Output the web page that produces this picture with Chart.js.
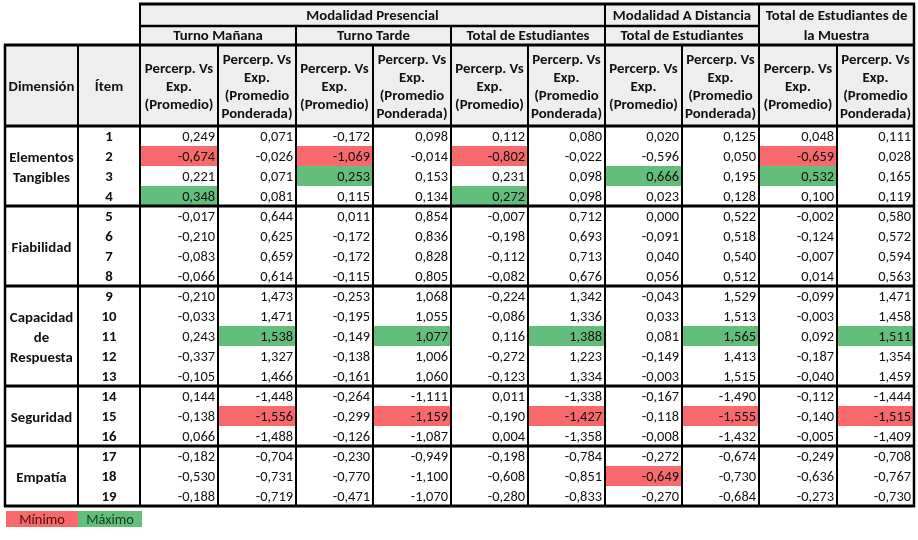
<!DOCTYPE html>
<html>
<head>
<meta charset="utf-8">
<script src="https://cdn.jsdelivr.net/npm/chart.js@4.4.0/dist/chart.umd.min.js"></script>
<style>
  html, body { margin: 0; padding: 0; background: #fff; }
</style>
</head>
<body>
<canvas id="tabla" width="918" height="540"></canvas>
<script>
// ---- data ----
const dimensiones = ['Elementos\nTangibles', 'Fiabilidad', 'Capacidad\nde\nRespuesta', 'Seguridad', 'Empatía'];
const itemsPorDimension = [4, 4, 5, 3, 3];
const items = [1, 2, 3, 4, 5, 6, 7, 8, 9, 10, 11, 12, 13, 14, 15, 16, 17, 18, 19];

const modalidades = ['Modalidad Presencial', 'Modalidad A Distancia', 'Total de Estudiantes de\nla Muestra'];
const grupos = ['Turno Mañana', 'Turno Tarde', 'Total de Estudiantes', 'Total de Estudiantes'];
const encabezados = ['Percerp. Vs\nExp.\n(Promedio)', 'Percerp. Vs\nExp.\n(Promedio\nPonderada)'];
const leyenda = ['Mínimo', 'Máximo'];

const mananaProm = [0.249, -0.674, 0.221, 0.348, -0.017, -0.210, -0.083, -0.066, -0.210, -0.033, 0.243, -0.337, -0.105, 0.144, -0.138, 0.066, -0.182, -0.530, -0.188];
const mananaPond = [0.071, -0.026, 0.071, 0.081, 0.644, 0.625, 0.659, 0.614, 1.473, 1.471, 1.538, 1.327, 1.466, -1.448, -1.556, -1.488, -0.704, -0.731, -0.719];
const tardeProm = [-0.172, -1.069, 0.253, 0.115, 0.011, -0.172, -0.172, -0.115, -0.253, -0.195, -0.149, -0.138, -0.161, -0.264, -0.299, -0.126, -0.230, -0.770, -0.471];
const tardePond = [0.098, -0.014, 0.153, 0.134, 0.854, 0.836, 0.828, 0.805, 1.068, 1.055, 1.077, 1.006, 1.060, -1.111, -1.159, -1.087, -0.949, -1.100, -1.070];
const presencialProm = [0.112, -0.802, 0.231, 0.272, -0.007, -0.198, -0.112, -0.082, -0.224, -0.086, 0.116, -0.272, -0.123, 0.011, -0.190, 0.004, -0.198, -0.608, -0.280];
const presencialPond = [0.080, -0.022, 0.098, 0.098, 0.712, 0.693, 0.713, 0.676, 1.342, 1.336, 1.388, 1.223, 1.334, -1.338, -1.427, -1.358, -0.784, -0.851, -0.833];
const distanciaProm = [0.020, -0.596, 0.666, 0.023, 0.000, -0.091, 0.040, 0.056, -0.043, 0.033, 0.081, -0.149, -0.003, -0.167, -0.118, -0.008, -0.272, -0.649, -0.270];
const distanciaPond = [0.125, 0.050, 0.195, 0.128, 0.522, 0.518, 0.540, 0.512, 1.529, 1.513, 1.565, 1.413, 1.515, -1.490, -1.555, -1.432, -0.674, -0.730, -0.684];
const muestraProm = [0.048, -0.659, 0.532, 0.100, -0.002, -0.124, -0.007, 0.014, -0.099, -0.003, 0.092, -0.187, -0.040, -0.112, -0.140, -0.005, -0.249, -0.636, -0.273];
const muestraPond = [0.111, 0.028, 0.165, 0.119, 0.580, 0.572, 0.594, 0.563, 1.471, 1.458, 1.511, 1.354, 1.459, -1.444, -1.515, -1.409, -0.708, -0.767, -0.730];

const columnas = [mananaProm, mananaPond, tardeProm, tardePond, presencialProm, presencialPond,
  distanciaProm, distanciaPond, muestraProm, muestraPond];

// ---- layout (scale units) ----
const colW = [73, 62, 78, 78, 77, 78, 77, 77, 77, 77, 78, 77];
const colEdge = [0];
colW.forEach(w => colEdge.push(colEdge[colEdge.length - 1] + w));
const headEdge = [0, 22, 41, 122];
const rowH = 20;
const dataTop = headEdge[3];
const dataBottom = dataTop + rowH * items.length;
const legendTop = dataBottom + 5, legendH = 16;

const ROJO = '#F8696B', VERDE = '#63BE7B', GRIS = '#EEEEEE';
const FONT = 'Carlito, Lato, "Liberation Sans", sans-serif';
const BOLD = 'bold 14.8px ' + FONT;
const NORMAL = '14.4px ' + FONT;

const fmt = v => v.toFixed(3).replace('.', ',');

const datasets = columnas.map((serie, c) => ({
  data: serie.map((v, r) => ({ x: (colEdge[c + 2] + colEdge[c + 3]) / 2, y: dataTop + rowH * (r + 0.5), v })),
  pointRadius: 0,
  pointHoverRadius: 0
}));

const tablaPlugin = {
  id: 'tabla',
  beforeDatasetsDraw(chart) {
    const { ctx, scales: { x, y } } = chart;
    const X = u => x.getPixelForValue(u), Y = u => y.getPixelForValue(u);
    ctx.save();
    // header fills
    ctx.fillStyle = GRIS;
    ctx.fillRect(X(colEdge[2]), Y(0), X(colEdge[12]) - X(colEdge[2]), Y(headEdge[2]) - Y(0));
    ctx.fillRect(X(0), Y(headEdge[2]), X(colEdge[12]) - X(0), Y(headEdge[3]) - Y(headEdge[2]));
    // min / max highlights per column
    columnas.forEach((serie, c) => {
      const mn = serie.indexOf(Math.min(...serie));
      const mx = serie.indexOf(Math.max(...serie));
      [[mn, ROJO], [mx, VERDE]].forEach(([r, col]) => {
        ctx.fillStyle = col;
        ctx.fillRect(X(colEdge[c + 2]), Y(dataTop + rowH * r), X(colEdge[c + 3]) - X(colEdge[c + 2]), Y(rowH) - Y(0));
      });
    });
    // legend
    leyenda.forEach((t, i) => {
      const x0 = X(colEdge[i] + (i === 0 ? 1 : 0)), x1 = X(colEdge[i + 1]) + (i === 1 ? 2 : 0);
      ctx.fillStyle = i === 0 ? ROJO : VERDE;
      ctx.fillRect(x0, Y(legendTop), x1 - x0, Y(legendTop + legendH) - Y(legendTop));
      ctx.fillStyle = i === 0 ? '#4a0c0c' : '#103d18';
      ctx.font = NORMAL;
      ctx.textAlign = 'center';
      ctx.textBaseline = 'middle';
      ctx.fillText(t, (x0 + x1) / 2, Y(legendTop + legendH / 2) + 1);
    });
    ctx.restore();
  },
  afterDatasetsDraw(chart) {
    const { ctx, scales: { x, y } } = chart;
    const X = u => x.getPixelForValue(u), Y = u => y.getPixelForValue(u);
    ctx.save();
    ctx.textBaseline = 'middle';

    // cell values
    ctx.font = NORMAL;
    ctx.fillStyle = '#111';
    ctx.textAlign = 'right';
    chart.data.datasets.forEach((ds, c) => {
      const meta = chart.getDatasetMeta(c);
      const right = X(colEdge[c + 3]) - 3;
      meta.data.forEach((pt, r) => ctx.fillText(fmt(ds.data[r].v), right, pt.y + 1));
    });

    // items + dimensions
    ctx.font = BOLD;
    ctx.textAlign = 'center';
    items.forEach((it, r) => ctx.fillText(String(it), (X(colEdge[1]) + X(colEdge[2])) / 2, Y(dataTop + rowH * (r + 0.5)) + 1));
    let start = 0;
    dimensiones.forEach((d, i) => {
      const n = itemsPorDimension[i];
      const lines = d.split('\n');
      const cy = Y(dataTop + rowH * (start + n / 2));
      lines.forEach((l, k) => ctx.fillText(l, (X(colEdge[0]) + X(colEdge[1])) / 2, cy + (k - (lines.length - 1) / 2) * 20 + 2));
      start += n;
    });

    // header texts
    const multi = (txt, cx, cy, lh) => {
      const lines = txt.split('\n');
      lines.forEach((l, k) => ctx.fillText(l, cx, cy + (k - (lines.length - 1) / 2) * lh));
    };
    const mid = (a, b) => (X(colEdge[a]) + X(colEdge[b])) / 2;
    const r1 = Y(headEdge[1] / 2) + 1, r2 = Y((headEdge[1] + headEdge[2]) / 2) + 1;
    ctx.fillText(modalidades[0], mid(2, 8), r1);
    ctx.fillText(modalidades[1], mid(8, 10), r1);
    multi(modalidades[2], mid(10, 12), (r1 + r2) / 2, r2 - r1);
    grupos.forEach((g, i) => ctx.fillText(g, mid(2 + 2 * i, 4 + 2 * i), r2));
    const r3 = Y((headEdge[2] + headEdge[3]) / 2) + 2;
    ctx.fillText('Dimensión', mid(0, 1), r3);
    ctx.fillText('Ítem', mid(1, 2), r3);
    for (let c = 0; c < 10; c++) multi(encabezados[c % 2], mid(c + 2, c + 3), r3, 18);

    // borders
    ctx.strokeStyle = '#000';
    const hline = (u0, u1, v, w) => {
      ctx.lineWidth = w; ctx.beginPath();
      ctx.moveTo(X(u0) - 1, Y(v)); ctx.lineTo(X(u1) + 1, Y(v)); ctx.stroke();
    };
    const vline = (u, v0, v1, w) => {
      ctx.lineWidth = w; ctx.beginPath();
      ctx.moveTo(X(u), Y(v0) - 1); ctx.lineTo(X(u), Y(v1) + 1); ctx.stroke();
    };
    hline(colEdge[2], colEdge[12], 0, 3);
    hline(colEdge[2], colEdge[10], headEdge[1], 2.5);
    hline(colEdge[0], colEdge[12], headEdge[2], 3);
    hline(colEdge[0], colEdge[12], headEdge[3], 3);
    let acc = 0;
    itemsPorDimension.forEach(n => { acc += n; hline(colEdge[0], colEdge[12], dataTop + rowH * acc, 3); });
    [2, 8, 10, 12].forEach(i => vline(colEdge[i], 0, dataBottom, i === 12 ? 2.5 : 2));
    [4, 6].forEach(i => vline(colEdge[i], headEdge[1], dataBottom, 2));
    [0, 1, 3, 5, 7, 9, 11].forEach(i => vline(colEdge[i], headEdge[2], dataBottom, i === 0 ? 2.5 : 2));
    ctx.restore();
  }
};

new Chart(document.getElementById('tabla').getContext('2d'), {
  type: 'scatter',
  data: { datasets },
  options: {
    responsive: false,
    animation: false,
    events: [],
    layout: { padding: { left: 5, right: 4, top: 4, bottom: 13 } },
    scales: {
      x: { type: 'linear', min: 0, max: colEdge[12], display: false },
      y: { type: 'linear', min: 0, max: legendTop + legendH, reverse: true, display: false }
    },
    plugins: { legend: { display: false }, tooltip: { enabled: false } }
  },
  plugins: [tablaPlugin]
});
</script>
</body>
</html>
